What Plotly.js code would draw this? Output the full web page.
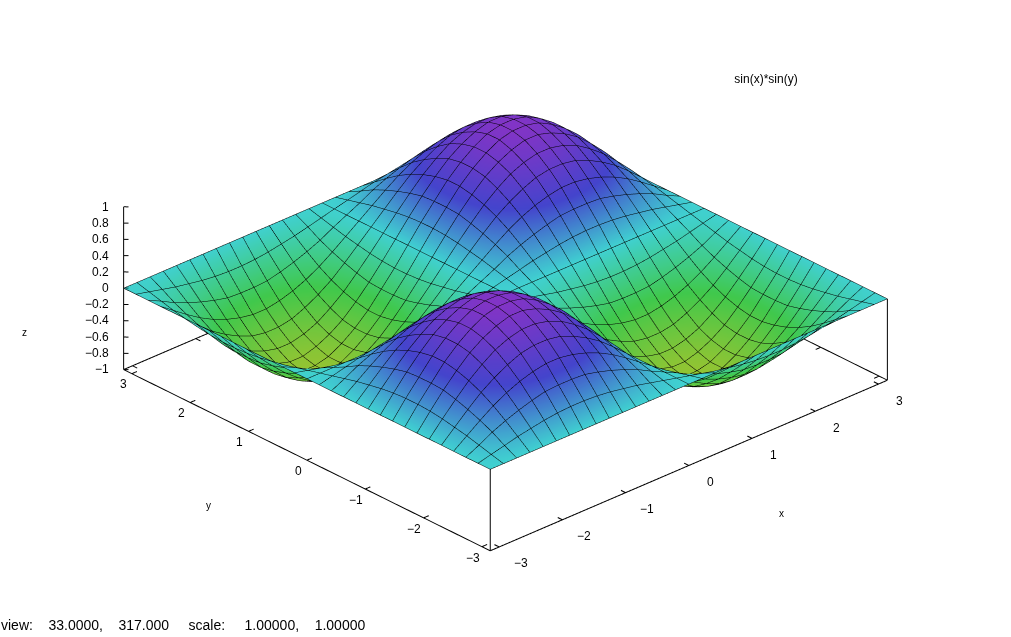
<!DOCTYPE html>
<html>
<head>
<meta charset="utf-8">
<script src="https://cdn.plot.ly/plotly-3.0.1.min.js"></script>
<style>html,body{margin:0;padding:0;background:#fff;}#chart{width:1011px;height:637px;}</style>
</head>
<body>
<div id="chart"></div>
<script>
// grid coordinates (31 samples, -pi .. pi)
var gridX = [-3.1416,-2.9322,-2.7227,-2.5133,-2.3038,-2.0944,-1.8850,-1.6755,-1.4661,-1.2566,-1.0472,-0.8378,-0.6283,-0.4189,-0.2094,0,0.2094,0.4189,0.6283,0.8378,1.0472,1.2566,1.4661,1.6755,1.8850,2.0944,2.3038,2.5133,2.7227,2.9322,3.1416];
var gridY = gridX;

// surface heights, read row by row
var row0 = [0,0,0,0,0,0,0,0,0,0,0,0,0,0,0,0,0,0,0,0,0,0,0,0,0,0,0,0,0,0,0];
var rowA = [0,.04,.08,.12,.15,.18,.20,.21,.21,.20,.18,.15,.12,.08,.04,0,-.04,-.08,-.12,-.15,-.18,-.20,-.21,-.21,-.20,-.18,-.15,-.12,-.08,-.04,0];
var rowB = [0,.08,.17,.24,.30,.35,.39,.40,.40,.39,.35,.30,.24,.17,.08,0,-.08,-.17,-.24,-.30,-.35,-.39,-.40,-.40,-.39,-.35,-.30,-.24,-.17,-.08,0];
var rowC = [0,.12,.24,.35,.44,.51,.56,.59,.59,.56,.51,.44,.35,.24,.12,0,-.12,-.24,-.35,-.44,-.51,-.56,-.59,-.59,-.56,-.51,-.44,-.35,-.24,-.12,0];
var rowD = [0,.15,.30,.44,.55,.64,.71,.74,.74,.71,.64,.55,.44,.30,.15,0,-.15,-.30,-.44,-.55,-.64,-.71,-.74,-.74,-.71,-.64,-.55,-.44,-.30,-.15,0];
var rowE = [0,.18,.35,.51,.64,.75,.82,.86,.86,.82,.75,.64,.51,.35,.18,0,-.18,-.35,-.51,-.64,-.75,-.82,-.86,-.86,-.82,-.75,-.64,-.51,-.35,-.18,0];
var rowF = [0,.20,.39,.56,.71,.82,.90,.95,.95,.90,.82,.71,.56,.39,.20,0,-.20,-.39,-.56,-.71,-.82,-.90,-.95,-.95,-.90,-.82,-.71,-.56,-.39,-.20,0];
var rowG = [0,.21,.40,.59,.74,.86,.95,.99,.99,.95,.86,.74,.59,.40,.21,0,-.21,-.40,-.59,-.74,-.86,-.95,-.99,-.99,-.95,-.86,-.74,-.59,-.40,-.21,0];
var negA = [0,-.04,-.08,-.12,-.15,-.18,-.20,-.21,-.21,-.20,-.18,-.15,-.12,-.08,-.04,0,.04,.08,.12,.15,.18,.20,.21,.21,.20,.18,.15,.12,.08,.04,0];
var negB = [0,-.08,-.17,-.24,-.30,-.35,-.39,-.40,-.40,-.39,-.35,-.30,-.24,-.17,-.08,0,.08,.17,.24,.30,.35,.39,.40,.40,.39,.35,.30,.24,.17,.08,0];
var negC = [0,-.12,-.24,-.35,-.44,-.51,-.56,-.59,-.59,-.56,-.51,-.44,-.35,-.24,-.12,0,.12,.24,.35,.44,.51,.56,.59,.59,.56,.51,.44,.35,.24,.12,0];
var negD = [0,-.15,-.30,-.44,-.55,-.64,-.71,-.74,-.74,-.71,-.64,-.55,-.44,-.30,-.15,0,.15,.30,.44,.55,.64,.71,.74,.74,.71,.64,.55,.44,.30,.15,0];
var negE = [0,-.18,-.35,-.51,-.64,-.75,-.82,-.86,-.86,-.82,-.75,-.64,-.51,-.35,-.18,0,.18,.35,.51,.64,.75,.82,.86,.86,.82,.75,.64,.51,.35,.18,0];
var negF = [0,-.20,-.39,-.56,-.71,-.82,-.90,-.95,-.95,-.90,-.82,-.71,-.56,-.39,-.20,0,.20,.39,.56,.71,.82,.90,.95,.95,.90,.82,.71,.56,.39,.20,0];
var negG = [0,-.21,-.40,-.59,-.74,-.86,-.95,-.99,-.99,-.95,-.86,-.74,-.59,-.40,-.21,0,.21,.40,.59,.74,.86,.95,.99,.99,.95,.86,.74,.59,.40,.21,0];
var surfaceZ = [row0,rowA,rowB,rowC,rowD,rowE,rowF,rowG,rowG,rowF,rowE,rowD,rowC,rowB,rowA,row0,
                negA,negB,negC,negD,negE,negF,negG,negG,negF,negE,negD,negC,negB,negA,row0];

var xTicks = [-3,-2,-1,0,1,2,3];
var yTicks = [-3,-2,-1,0,1,2,3];
var zTicks = [-1,-0.8,-0.6,-0.4,-0.2,0,0.2,0.4,0.6,0.8,1];
var zTickText = ['\u22121','\u22120.8','\u22120.6','\u22120.4','\u22120.2','0','0.2','0.4','0.6','0.8','1'];
var tickText = ['\u22123','\u22122','\u22121','0','1','2','3'];

var LO = -3.1416, HI = 3.1416, ZB = -1, ZT = 1;
var TL = 0.08;

// frame + ticks
var fx = [], fy = [], fz = [];
function seg(a, b) { fx.push(a[0], b[0], null); fy.push(a[1], b[1], null); fz.push(a[2], b[2], null); }
seg([LO,LO,ZB],[HI,LO,ZB]); seg([HI,LO,ZB],[HI,HI,ZB]); seg([HI,HI,ZB],[LO,HI,ZB]); seg([LO,HI,ZB],[LO,LO,ZB]);
seg([LO,LO,ZB],[LO,LO,0]); seg([HI,LO,ZB],[HI,LO,0]); seg([LO,HI,ZB],[LO,HI,ZT]);
xTicks.forEach(function (t) { seg([t,LO,ZB],[t,LO+TL,ZB]); seg([t,HI,ZB],[t,HI-TL,ZB]); });
yTicks.forEach(function (t) { seg([LO,t,ZB],[LO+TL,t,ZB]); seg([HI,t,ZB],[HI-TL,t,ZB]); });
zTicks.forEach(function (t) { seg([LO,HI,t],[LO+0.04,HI-0.04,t]); });

var W = 1011, H = 637;
var notes = [];
function note(px, py, text, anchor, size) {
  notes.push({xref:'paper', yref:'paper', x:px/W, y:1-py/H, text:text, showarrow:false,
    xanchor:anchor || 'center', yanchor:'middle', font:{family:'Liberation Sans, sans-serif', size:size || 12, color:'#000'}});
}
// tick labels sit at a fixed offset along each projected axis
xTicks.forEach(function (t, i) { note(710 + t*63, 482 - t*27, tickText[i]); });
yTicks.forEach(function (t, i) { note(298 - t*58.2, 471 - t*29, tickText[i]); });
zTicks.forEach(function (t, i) { note(111, 288 - t*81, zTickText[i], 'right'); });
note(781, 513, 'x', 'center', 10);
note(208, 505, 'y', 'center', 10);
note(24, 332, 'z', 'center', 10);
var sp4 = '\u00a0\u00a0\u00a0\u00a0', sp5 = '\u00a0\u00a0\u00a0\u00a0\u00a0';
note(-1, 625, 'view:' + sp4 + '33.0000,' + sp4 + '317.000' + sp5 + 'scale:' + sp5 + '1.00000,' + sp4 + '1.00000', 'left', 14);

function bareAxis(lo, hi) {
  return {range:[lo,hi], autorange:false, showgrid:false, zeroline:false, showline:false, showticklabels:false,
          ticks:'', showbackground:false, showspikes:false, showaxeslabels:false, title:{text:''}};
}
var data = [
  {type:'surface', x:gridX, y:gridY, z:surfaceZ, cmin:-1, cmax:1, showscale:false, hoverinfo:'skip',
   colorscale:[[0,'#94c432'],[0.25,'#40c84c'],[0.5,'#40d0d0'],[0.75,'#4444cc'],[1,'#8234c6']],
   lighting:{ambient:1, diffuse:0, specular:0, roughness:1, fresnel:0},
   contours:{
     x:{show:true, start:LO, end:HI, size:(HI-LO)/30, color:'#000', width:3, highlight:false},
     y:{show:true, start:LO, end:HI, size:(HI-LO)/30, color:'#000', width:3, highlight:false},
     z:{highlight:false}
   }},
  {type:'scatter3d', mode:'lines', x:fx, y:fy, z:fz, line:{color:'#000', width:2}, hoverinfo:'skip', showlegend:false}
];
var layout = {
  width:W, height:H, margin:{l:0,r:0,t:0,b:0}, paper_bgcolor:'#fff', showlegend:false,
  title:{text:'sin(x)*sin(y)', x:766/W, xanchor:'center', y:1-79/H, yanchor:'middle', font:{family:'Liberation Sans, sans-serif', size:12, color:'#000'}},
  scene:{
    domain:{x:[0,1], y:[50/H,1]},
    aspectmode:'manual', aspectratio:{x:1.85, y:1.832, z:0.625},
    camera:{eye:{x:-1.21,y:-1.298,z:0.921}, up:{x:0,y:0,z:1}, center:{x:0,y:0,z:0}, projection:{type:'orthographic'}},
    xaxis:bareAxis(LO,HI), yaxis:bareAxis(LO,HI), zaxis:bareAxis(ZB,ZT), bgcolor:'#fff'
  },
  annotations:notes
};
Plotly.newPlot('chart', data, layout, {displayModeBar:false});
</script>
</body>
</html>
